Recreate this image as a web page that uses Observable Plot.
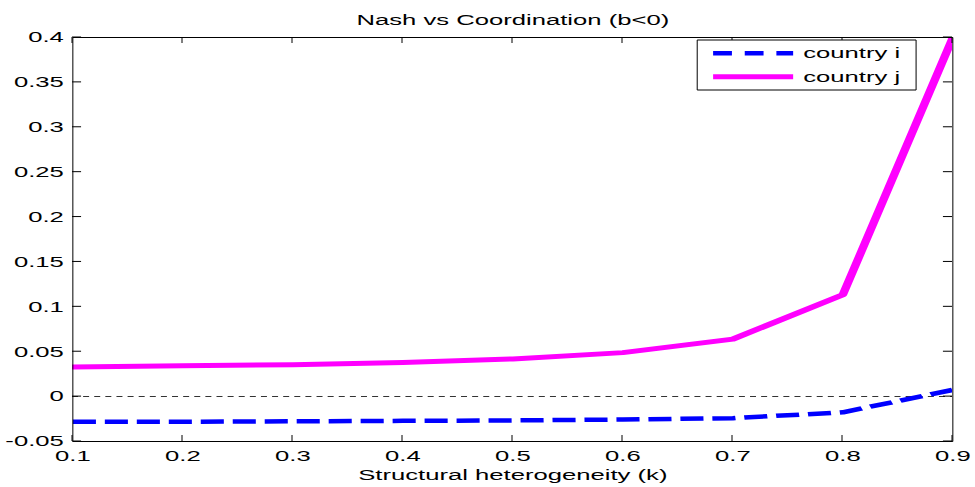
<!DOCTYPE html>
<html>
<head>
<meta charset="utf-8">
<script src="https://cdn.jsdelivr.net/npm/d3@7"></script>
<script src="https://cdn.jsdelivr.net/npm/@observablehq/plot@0.6"></script>
<style>
  html, body { margin: 0; padding: 0; background: #fff; }
  #chart svg { display: block; }
</style>
</head>
<body>
<div id="chart"></div>
<script>
// Welfare gain of coordination over Nash, by structural heterogeneity k
const kValues  = [0.1, 0.2, 0.3, 0.4, 0.5, 0.6, 0.7, 0.8, 0.9];
const countryI = [-0.028, -0.028, -0.0275, -0.027, -0.0265, -0.0255, -0.024, -0.0175, 0.0075];
const countryJ = [0.033, 0.0345, 0.0355, 0.038, 0.042, 0.049, 0.064, 0.1135, 0.40];

const seriesNames  = ["country i", "country j"];
const seriesColors = ["#0000ff", "#ff00ff"];

const xTicks      = [0.1, 0.2, 0.3, 0.4, 0.5, 0.6, 0.7, 0.8, 0.9];
const xTickLabels = ["0.1", "0.2", "0.3", "0.4", "0.5", "0.6", "0.7", "0.8", "0.9"];
const yTicks      = [-0.05, 0, 0.05, 0.1, 0.15, 0.2, 0.25, 0.3, 0.35, 0.4];
const yTickLabels = ["-0.05", "0", "0.05", "0.1", "0.15", "0.2", "0.25", "0.3", "0.35", "0.4"];

const titleText  = "Nash vs Coordination (b<0)";
const xLabelText = "Structural heterogeneity (k)";

(() => {
  // The figure is laid out on a narrower canvas and stretched horizontally.
  const OUT_W = 975, OUT_H = 487;
  const STRETCH = 1.71;
  const W = OUT_W / STRETCH;
  const mLeft = 72 / STRETCH, mRight = 23 / STRETCH, mTop = 37, mBottom = 46;
  const FONT = "'Liberation Sans', Arial, Helvetica, sans-serif";

  const seriesI = kValues.map((k, i) => ({k, v: countryI[i]}));
  const seriesJ = kValues.map((k, i) => ({k, v: countryJ[i]}));

  const plot = Plot.plot({
    width: W,
    height: OUT_H,
    marginLeft: mLeft,
    marginRight: mRight,
    marginTop: mTop,
    marginBottom: mBottom,
    style: {fontFamily: FONT, fontSize: "15px", color: "#000", background: "#fff"},
    x: {domain: [0.1, 0.9]},
    y: {domain: [-0.05, 0.4]},
    marks: [
      Plot.ruleY([0], {stroke: "#333", strokeWidth: 1, strokeDasharray: "3.5,3"}),
      Plot.line(seriesJ, {x: "k", y: "v", stroke: seriesColors[1], strokeWidth: 5, clip: true}),
      Plot.line(seriesI, {x: "k", y: "v", stroke: seriesColors[0], strokeWidth: 4.5,
                          strokeDasharray: "13.5,5.2", strokeLinecap: "butt", clip: true}),
      Plot.frame({stroke: "#000", strokeWidth: 1}),
      Plot.axisX(xTicks, {tickSize: 0, tickPadding: 9, label: null, fontSize: 15,
                          tickFormat: d => xTickLabels[xTicks.indexOf(d)]}),
      Plot.axisY(yTicks, {tickSize: 0, tickPadding: 5.3, label: null, fontSize: 15,
                          tickFormat: d => yTickLabels[yTicks.indexOf(d)]}),
      Plot.text([titleText], {text: d => d, frameAnchor: "top", dy: -13, lineAnchor: "bottom", fontSize: 15}),
      Plot.text([xLabelText], {text: d => d, frameAnchor: "bottom", dy: 38, lineAnchor: "bottom", fontSize: 15})
    ]
  });

  const svg = d3.select(plot);
  const xs = plot.scale("x"), ys = plot.scale("y");
  const fLeft = mLeft, fRight = W - mRight, fTop = mTop, fBottom = OUT_H - mBottom;

  // keep the box outline a uniform 1px
  svg.selectAll("rect").filter(function () { return this.getAttribute("fill") === "none"; })
     .attr("vector-effect", "non-scaling-stroke");

  // inward ticks on all four sides
  const tg = svg.append("g").attr("stroke", "#000").attr("stroke-width", 1);
  for (const t of xTicks) {
    const x = xs.apply(t);
    tg.append("line").attr("x1", x).attr("x2", x).attr("y1", fBottom).attr("y2", fBottom - 6)
      .attr("vector-effect", "non-scaling-stroke");
    tg.append("line").attr("x1", x).attr("x2", x).attr("y1", fTop).attr("y2", fTop + 6)
      .attr("vector-effect", "non-scaling-stroke");
  }
  for (const t of yTicks) {
    const y = ys.apply(t);
    tg.append("line").attr("x1", fLeft).attr("x2", fLeft + 5.3).attr("y1", y).attr("y2", y)
      .attr("vector-effect", "non-scaling-stroke");
    tg.append("line").attr("x1", fRight).attr("x2", fRight - 5.3).attr("y1", y).attr("y2", y)
      .attr("vector-effect", "non-scaling-stroke");
  }

  // legend box, upper right
  const lgX = fRight - 21, lgW = 128, lgY = fTop + 3, lgH = 50;
  const lg = svg.append("g").attr("font-family", FONT).attr("font-size", 15).attr("text-anchor", "start");
  lg.append("rect").attr("x", lgX - lgW).attr("y", lgY).attr("width", lgW).attr("height", lgH)
    .attr("fill", "#fff").attr("stroke", "#000").attr("stroke-width", 1)
    .attr("vector-effect", "non-scaling-stroke");
  seriesNames.forEach((name, i) => {
    const y = lgY + 13.3 + i * 23.5;
    const x0 = lgX - lgW + 9.3;
    lg.append("line").attr("x1", x0).attr("x2", x0 + 46.8).attr("y1", y).attr("y2", y)
      .attr("stroke", seriesColors[i]).attr("stroke-width", i === 0 ? 4.5 : 5)
      .attr("stroke-dasharray", i === 0 ? "11,7.5" : null);
    lg.append("text").attr("x", x0 + 52.7).attr("y", y + 5.2).attr("fill", "#000")
      .attr("text-anchor", "start").text(name);
  });

  // stretch the drawing to the output size
  plot.setAttribute("width", OUT_W);
  plot.setAttribute("height", OUT_H);
  plot.setAttribute("preserveAspectRatio", "none");
  plot.style.width = OUT_W + "px";
  plot.style.height = OUT_H + "px";
  plot.style.maxWidth = "none";

  document.getElementById("chart").appendChild(plot);
})();
</script>
</body>
</html>
